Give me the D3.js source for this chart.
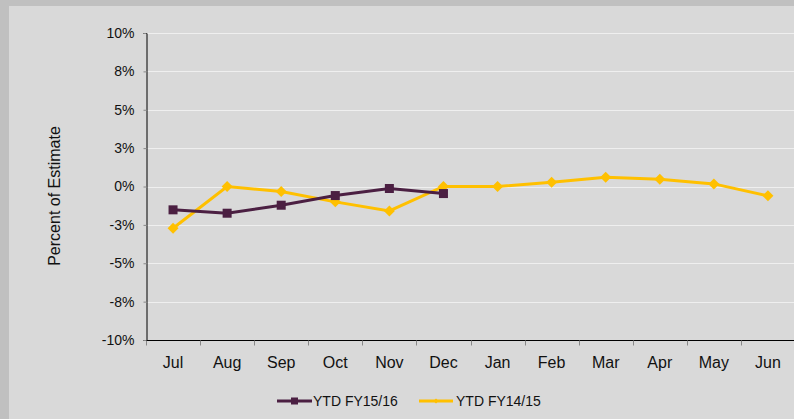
<!DOCTYPE html>
<html>
<head>
<meta charset="utf-8">
<script src="https://cdnjs.cloudflare.com/ajax/libs/d3/7.8.5/d3.min.js"></script>
<style>
  html, body { margin: 0; padding: 0; background: #c0c0c0; }
  svg { display: block; font-family: "Liberation Sans", Arial, sans-serif; }
</style>
</head>
<body>
<script>
// months of the fiscal year
var months = ['Jul', 'Aug', 'Sep', 'Oct', 'Nov', 'Dec', 'Jan', 'Feb', 'Mar', 'Apr', 'May', 'Jun'];
// percent of estimate, year to date
var fy1516 = [-1.52, -1.74, -1.22, -0.59, -0.13, -0.46];
var fy1415 = [-2.72, 0.0, -0.33, -1.0, -1.59, 0.0, 0.0, 0.28, 0.61, 0.48, 0.17, -0.61];
var yTicks = [-10, -7.5, -5, -2.5, 0, 2.5, 5, 7.5, 10];
var seriesNames = ['YTD FY15/16', 'YTD FY14/15'];

var width = 794, height = 419;
var margin = { left: 146, right: -1, top: 33, bottom: 79 };

var svg = d3.select('body').append('svg').attr('width', width).attr('height', height);

// inner panel
svg.append('rect').attr('x', 9).attr('y', 6).attr('width', width).attr('height', height)
    .attr('fill', '#d9d9d9');

var x = d3.scaleBand().domain(months).range([margin.left, width - margin.right]);
var y = d3.scaleLinear().domain([-10, 10]).range([height - margin.bottom, margin.top]);

// gridlines
svg.append('g').selectAll('line').data(yTicks.filter(function (d) { return d !== -10; }))
    .enter().append('line')
    .attr('x1', margin.left).attr('x2', width)
    .attr('y1', function (d) { return Math.round(y(d)) + 0.5; })
    .attr('y2', function (d) { return Math.round(y(d)) + 0.5; })
    .attr('stroke', '#efefef').attr('stroke-width', 1);

// excel style rounding of labels
function fmt(d) {
    var r = d < 0 ? -Math.round(-d) : Math.round(d);
    return r + '%';
}

var yAxis = svg.append('g').attr('transform', 'translate(' + (margin.left + 0.5) + ',0)')
    .call(d3.axisLeft(y).tickValues(yTicks).tickFormat(fmt).tickSize(3).tickPadding(9));
yAxis.select('.domain').attr('stroke', '#000');
yAxis.selectAll('.tick line').attr('stroke', '#888');
yAxis.selectAll('text').attr('font-size', 14).attr('fill', '#111');

var xAxis = svg.append('g').attr('transform', 'translate(0,' + (Math.round(y(-10)) + 0.5) + ')');
xAxis.append('line').attr('x1', margin.left).attr('x2', width).attr('stroke', '#000');
xAxis.selectAll('.tk').data(months).enter().append('line')
    .attr('x1', function (d) { return Math.round(x(d)) + 0.5; })
    .attr('x2', function (d) { return Math.round(x(d)) + 0.5; })
    .attr('y1', 0).attr('y2', 5).attr('stroke', '#888');
xAxis.selectAll('text').data(months).enter().append('text')
    .attr('x', function (d) { return x(d) + x.bandwidth() / 2; })
    .attr('y', 27)
    .attr('text-anchor', 'middle')
    .attr('font-size', 16).attr('fill', '#111')
    .text(function (d) { return d; });

// y axis title
svg.append('text')
    .attr('transform', 'translate(60,196) rotate(-90)')
    .attr('text-anchor', 'middle')
    .attr('font-size', 16).attr('fill', '#111')
    .text('Percent of Estimate');

var cx = function (d, i) { return x(months[i]) + x.bandwidth() / 2; };
var line = d3.line().x(cx).y(function (d) { return y(d); });

// FY14/15
svg.append('path').datum(fy1415).attr('d', line)
    .attr('fill', 'none').attr('stroke', '#ffc000').attr('stroke-width', 3);
svg.append('g').selectAll('path').data(fy1415).enter().append('path')
    .attr('transform', function (d, i) { return 'translate(' + cx(d, i) + ',' + y(d) + ')'; })
    .attr('d', 'M0,-5.5L5.5,0L0,5.5L-5.5,0Z')
    .attr('fill', '#ffc000');

// FY15/16
svg.append('path').datum(fy1516).attr('d', line)
    .attr('fill', 'none').attr('stroke', '#4b1f42').attr('stroke-width', 3);
svg.append('g').selectAll('rect').data(fy1516).enter().append('rect')
    .attr('x', function (d, i) { return cx(d, i) - 4.5; })
    .attr('y', function (d) { return y(d) - 4.5; })
    .attr('width', 9).attr('height', 9)
    .attr('fill', '#4b1f42');

// legend
var legend = svg.append('g').attr('transform', 'translate(0,401)');
var lg1 = legend.append('g').attr('transform', 'translate(277,0)');
lg1.append('line').attr('x1', 0).attr('x2', 35).attr('stroke', '#4b1f42').attr('stroke-width', 3);
lg1.append('rect').attr('x', 14).attr('y', -3.5).attr('width', 7).attr('height', 7).attr('fill', '#4b1f42');
lg1.append('text').attr('x', 36).attr('y', 5).attr('font-size', 14).attr('fill', '#111').text(seriesNames[0]);

var lg2 = legend.append('g').attr('transform', 'translate(419,0)');
lg2.append('line').attr('x1', 0).attr('x2', 34).attr('stroke', '#ffc000').attr('stroke-width', 3);
lg2.append('path').attr('transform', 'translate(17,0)').attr('d', 'M0,-2.5L2.5,0L0,2.5L-2.5,0Z').attr('fill', '#ffc000');
lg2.append('text').attr('x', 37).attr('y', 5).attr('font-size', 14).attr('fill', '#111').text(seriesNames[1]);
</script>
</body>
</html>
